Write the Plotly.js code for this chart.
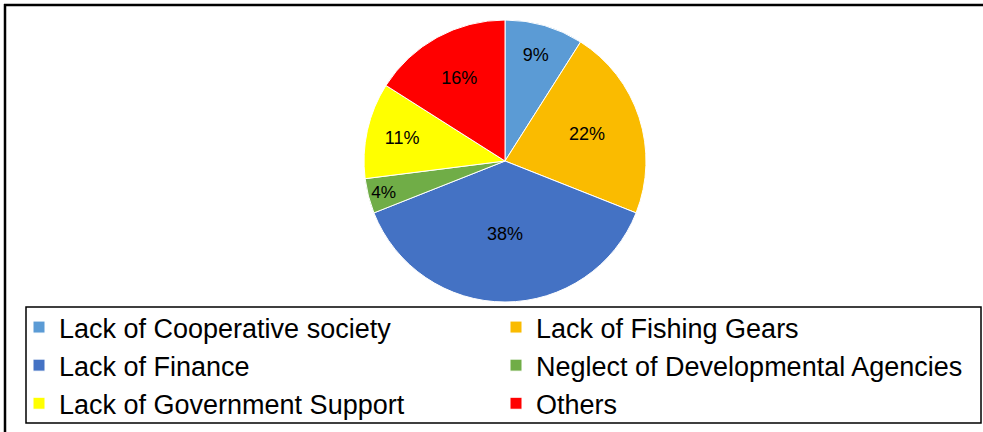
<!DOCTYPE html>
<html>
<head>
<meta charset="utf-8">
<script src="https://cdn.plot.ly/plotly-3.0.1.min.js"></script>
<style>html,body{margin:0;padding:0;background:#fff;overflow:hidden;}#chart{width:983px;height:432px;}</style>
</head>
<body>
<div id="chart"></div>
<script>
// Data
var categories = [
  "Lack of Cooperative society",
  "Lack of Fishing Gears",
  "Lack of Finance",
  "Neglect of Developmental Agencies",
  "Lack of Government Support",
  "Others"
];
var percentages = [9, 22, 38, 4, 11, 16];
var sliceColors = ["#5B9BD5", "#FABB00", "#4472C4", "#70AD47", "#FFFF00", "#FF0000"];

var W = 983, H = 432;
function px(x) { return x / W; }
function py(y) { return 1 - y / H; }

var trace = {
  type: "pie",
  labels: categories,
  values: percentages,
  sort: false,
  direction: "clockwise",
  rotation: 0,
  marker: { colors: sliceColors, line: { color: "#ffffff", width: 1 } },
  textinfo: "percent",
  texttemplate: "%{percent:.0%}",
  textposition: "inside",
  insidetextorientation: "horizontal",
  textfont: { family: "Liberation Sans, Arial, sans-serif", size: 18, color: "#000000" },
  hoverinfo: "label+percent",
  domain: { x: [px(300), px(710)], y: [py(302), py(20)] }
};

var layout = {
  width: W,
  height: H,
  margin: { l: 0, r: 0, t: 0, b: 0 },
  paper_bgcolor: "#ffffff",
  plot_bgcolor: "#ffffff",
  showlegend: true,
  legend: {
    orientation: "h",
    x: px(19),
    xanchor: "left",
    y: py(303),
    yanchor: "top",
    entrywidth: 432,
    entrywidthmode: "pixels",
    traceorder: "normal",
    borderwidth: 0,
    bgcolor: "rgba(0,0,0,0)",
    font: { family: "Liberation Sans, Arial, sans-serif", size: 27, color: "#000000" }
  },
  shapes: [
    { type: "line", xref: "paper", yref: "paper", x0: px(4), x1: px(983), y0: py(5), y1: py(5), line: { color: "#000000", width: 2.5 } },
    { type: "line", xref: "paper", yref: "paper", x0: px(5), x1: px(5), y0: py(4), y1: py(432), line: { color: "#000000", width: 2.5 } },
    { type: "rect", xref: "paper", yref: "paper", x0: px(26), x1: px(981), y0: py(307), y1: py(423), line: { color: "#000000", width: 1.5 }, fillcolor: "rgba(0,0,0,0)" }
  ]
};

Plotly.newPlot("chart", [trace], layout, { displayModeBar: false, staticPlot: true });
</script>
</body>
</html>
